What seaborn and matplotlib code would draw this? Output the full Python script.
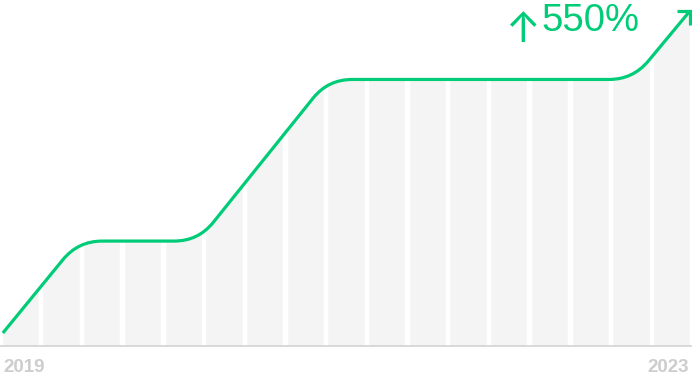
import numpy as np
import pandas as pd
import matplotlib
matplotlib.use("Agg")
import matplotlib.pyplot as plt
from matplotlib.path import Path
from matplotlib.patches import PathPatch
from matplotlib.lines import Line2D
import seaborn as sns

# ---- data ----
quarters = [f"Q{i}" for i in range(17)]          # 2019 Q1 .. 2023 Q1
key_quarter = [-0.43, 1.42, 4.37, 7.56, 15.05, 16.45]   # timeline position (quarters)
key_growth = [0.0, 157.0, 157.0, 433.0, 433.0, 550.0]   # growth in %
start_label = "2019"
end_label = "2023"
headline = "550%"

GREEN = "#00cc78"
FILL = "#f4f4f4"

sns.set_theme(style="white")
plt.rcParams['font.family'] = ['Liberation Sans', 'DejaVu Sans']

W, H = 692, 378
fig = plt.figure(figsize=(W / 100, H / 100), dpi=100)
ax = fig.add_axes([0, 32 / H, 1, 346 / H])
ylo, yhi = -22.2, 568.7
ax.set_xlim(-0.5, 16.5)
ax.set_ylim(ylo, yhi)

# bars (full height, later clipped to the area under the line)
df = pd.DataFrame({"quarter": quarters, "h": [yhi - ylo] * len(quarters)})
sns.barplot(data=df, x="quarter", y="h", bottom=ylo, color=FILL, saturation=1,
            width=0.915, ax=ax, zorder=1)
ax.set_xlim(-0.5, 16.5)
ax.set_ylim(ylo, yhi)

fig.canvas.draw()
tr = ax.transData
pts = tr.transform(np.column_stack([key_quarter, key_growth]))

# rounded-corner path in display coordinates
R = 24.0
verts = [pts[0]]
codes = [Path.MOVETO]
for i in range(1, len(pts) - 1):
    p0, p1, p2 = pts[i - 1], pts[i], pts[i + 1]
    d1 = (p1 - p0) / np.linalg.norm(p1 - p0)
    d2 = (p2 - p1) / np.linalg.norm(p2 - p1)
    a = p1 - d1 * R
    b = p1 + d2 * R
    verts += [a, p1, b]
    codes += [Path.LINETO, Path.CURVE3, Path.CURVE3]
verts.append(pts[-1])
codes.append(Path.LINETO)
verts = np.array(verts)
inv = tr.inverted()
line_path = Path(inv.transform(verts), codes)

# area polygon
ybase = tr.transform((0, ylo))[1]
area_verts = np.vstack([
    inv.transform(np.array([[verts[0][0] - 10, ybase]])),
    inv.transform(verts),
    inv.transform(np.array([[W + 10, verts[-1][1]], [W + 10, ybase]])),
    inv.transform(np.array([[verts[0][0] - 10, ybase]])),
])
area_codes = [Path.MOVETO] + [Path.LINETO] + codes[1:] + [Path.LINETO, Path.LINETO, Path.CLOSEPOLY]
area_path = Path(area_verts, area_codes)
clip_patch = PathPatch(area_path, transform=tr, facecolor="none", edgecolor="none")
ax.add_patch(clip_patch)
for p in ax.patches:
    if p is not clip_patch:
        p.set_clip_path(clip_patch)

line_patch = PathPatch(line_path, transform=tr, facecolor="none", edgecolor=GREEN,
                       linewidth=2.3, capstyle="butt", joinstyle="round", zorder=5,
                       clip_on=False)
ax.add_patch(line_patch)

# arrow head at the end
tip = pts[-1]
head = np.array([[tip[0] - 13, tip[1]], [tip[0], tip[1]], [tip[0], tip[1] - 14]])
ax.add_line(Line2D(*inv.transform(head).T, color=GREEN, linewidth=2.3,
                   solid_joinstyle="miter", solid_capstyle="butt", clip_on=False, zorder=6))

# axes styling
for s in ["top", "left", "right"]:
    ax.spines[s].set_visible(False)
ax.spines["bottom"].set_color("#d3d3d3")
ax.spines["bottom"].set_linewidth(1.2)
ax.set_xticks([])
ax.set_yticks([])
ax.set_xlabel("")
ax.set_ylabel("")

fig.text(3 / W, 1 - 372 / H, start_label, ha="left", va="baseline", fontsize=13.5,
         fontweight="bold", color="#cdcdcd")
fig.text(689 / W, 1 - 372 / H, end_label, ha="right", va="baseline", fontsize=13.5,
         fontweight="bold", color="#cdcdcd")

fig.text(541 / W, 1 - 31 / H, headline, ha="left", va="baseline", fontsize=27.5,
         color=GREEN)
fig.text(523 / W, 1 - 31 / H, "↑", ha="center", va="center", fontsize=30,
         color=GREEN, family=["Inter", "Noto Sans", "DejaVu Sans"])

fig.savefig("out.png", dpi=100)
